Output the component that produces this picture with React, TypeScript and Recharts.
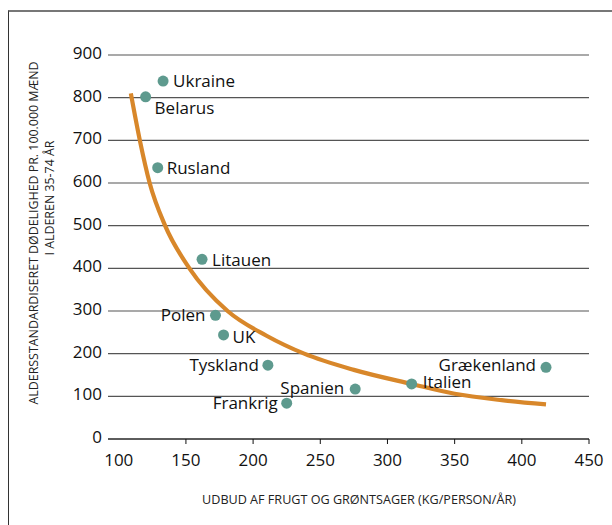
import React from 'react';
import { ScatterChart, Scatter, XAxis, YAxis, CartesianGrid, Label } from 'recharts';

// ---- data ----
const countries = ['Ukraine', 'Belarus', 'Rusland', 'Litauen', 'Polen', 'UK', 'Tyskland', 'Spanien', 'Frankrig', 'Italien', 'Grækenland'];
const supply = [133, 120, 129, 162, 172, 178, 211, 276, 225, 318, 418];
const mortality = [839, 802, 636, 421, 290, 244, 173, 117, 84, 129, 168];

const curveX = [109, 115.7, 123, 134.5, 152.6, 181, 210, 238, 275, 318, 350, 385, 418];
const curveY = [810, 700, 600, 500, 400, 300, 242, 200, 162, 129, 106, 91, 81];

const xTicks = [100, 150, 200, 250, 300, 350, 400, 450];
const yTicks = [0, 100, 200, 300, 400, 500, 600, 700, 800, 900];

const yTitle1 = 'ALDERSSTANDARDISERET DØDELIGHED PR. 100.000 MÆND';
const yTitle2 = 'I ALDEREN 35-74 ÅR';
const xTitle = 'UDBUD AF FRUGT OG GRØNTSAGER (KG/PERSON/ÅR)';

// label placement (styling, kept apart from the data)
const placement: Record<string, { dx: number; dy: number; anchor: 'start' | 'end' }> = {
  Ukraine: { dx: 10, dy: 0, anchor: 'start' },
  Belarus: { dx: 9, dy: 11, anchor: 'start' },
  Rusland: { dx: 9, dy: 0, anchor: 'start' },
  Litauen: { dx: 10, dy: 1, anchor: 'start' },
  Polen: { dx: -10, dy: 0, anchor: 'end' },
  UK: { dx: 9, dy: 2, anchor: 'start' },
  Tyskland: { dx: -9, dy: 0, anchor: 'end' },
  Spanien: { dx: -11, dy: -1, anchor: 'end' },
  Frankrig: { dx: -9, dy: 0, anchor: 'end' },
  Italien: { dx: 11, dy: -2, anchor: 'start' },
  Grækenland: { dx: -10, dy: -2, anchor: 'end' },
};

const points = countries.map((name, i) => ({ name, x: supply[i], y: mortality[i] }));
const curve = curveX.map((x, i) => ({ x, y: curveY[i] }));

const FONT = "'Open Sans', 'Noto Sans', sans-serif";
const DOT = '#5e9a8e';
const ORANGE = '#d8872a';

const CountryDot = (props: any) => {
  const { cx, cy, payload } = props;
  const p = placement[payload.name] || { dx: 10, dy: 0, anchor: 'start' };
  return (
    <g>
      <circle cx={cx} cy={cy} r={5.5} fill={DOT} />
      <text
        x={cx + p.dx}
        y={cy + p.dy}
        dy="0.36em"
        textAnchor={p.anchor}
        fontFamily={FONT}
        fontSize={17}
        fill="#111"
      >
        {payload.name}
      </text>
    </g>
  );
};

const XTick = (props: any) => {
  const { x, y, payload } = props;
  return (
    <g>
      {payload.value !== 100 && <line x1={x} x2={x} y1={y - 5} y2={y} stroke="#111" strokeWidth={1} />}
      <text x={x} y={y + 22} textAnchor="middle" fontFamily={FONT} fontSize={17} fill="#111">
        {payload.value}
      </text>
    </g>
  );
};

const YTick = (props: any) => {
  const { x, y, payload } = props;
  return (
    <text x={x} y={y - 2} dy="0.36em" textAnchor="end" fontFamily={FONT} fontSize={17} fill="#111">
      {payload.value}
    </text>
  );
};

const YTitle = () => (
  <g fontFamily={FONT} fontSize={12.4} fill="#222">
    <text transform="translate(34,233) rotate(-90)" textAnchor="middle" dy="0.36em">
      {yTitle1}
    </text>
    <text transform="translate(50,198) rotate(-90)" textAnchor="middle" dy="0.36em">
      {yTitle2}
    </text>
  </g>
);

const XTitle = () => (
  <text x={359} y={499} dy="0.36em" textAnchor="middle" fontFamily={FONT} fontSize={12.6} fill="#222">
    {xTitle}
  </text>
);

export default function App() {
  return (
    <div style={{ position: 'fixed', left: 0, top: 0, width: 612, height: 525, overflow: 'hidden', background: '#fff' }}>
      <div
        style={{
          position: 'absolute',
          left: 8,
          top: 10,
          width: 700,
          height: 600,
          borderLeft: '1.5px solid #333',
          borderTop: '2px solid #777',
        }}
      />
      <div style={{ position: 'absolute', left: 0, top: 0 }}>
        <ScatterChart width={612} height={525} margin={{ top: 55, right: 23, bottom: 56, left: 48 }}>
          <CartesianGrid horizontal vertical={false} stroke="#555" strokeWidth={1.1} />
          <XAxis
            type="number"
            dataKey="x"
            domain={[92, 450]}
            ticks={xTicks}
            allowDataOverflow
            height={30}
            tickSize={5}
            tickMargin={0}
            tickLine={false}
            axisLine={{ stroke: '#111', strokeWidth: 1 }}
            tick={<XTick />}
          >
            <Label content={<XTitle />} />
          </XAxis>
          <YAxis
            type="number"
            dataKey="y"
            domain={[0, 900]}
            ticks={yTicks}
            allowDataOverflow
            width={60}
            tickSize={0}
            tickMargin={6}
            tickLine={false}
            axisLine={false}
            tick={<YTick />}
          >
            <Label content={<YTitle />} />
          </YAxis>
          <Scatter
            data={curve}
            isAnimationActive={false}
            line={{ stroke: ORANGE, strokeWidth: 4.2 }}
            lineType="joint"
            lineJointType="monotoneX"
            shape={() => <g />}
          />
          <Scatter data={points} isAnimationActive={false} shape={<CountryDot />} />
        </ScatterChart>
      </div>
    </div>
  );
}
